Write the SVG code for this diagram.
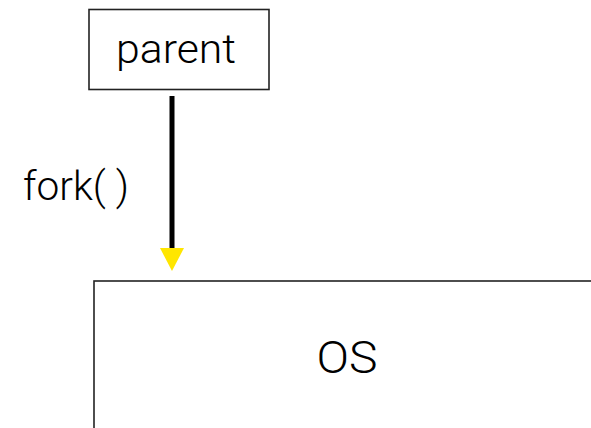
<svg xmlns="http://www.w3.org/2000/svg" width="591" height="428" viewBox="0 0 591 428">
<style>
text{font-family:Roboto,"Liberation Sans",Arial,sans-serif;font-weight:300;fill:#000;}
.box{fill:#fff;stroke:#222;stroke-width:1.6;}
</style>
<rect width="591" height="428" fill="#fff"/>
<g id="connectors">
<line x1="172" y1="96" x2="172" y2="249" stroke="#000" stroke-width="5"/>
<polygon points="160,248 184,248 172,271" fill="#FFE600"/>
<text x="23" y="200" font-size="40" textLength="106" lengthAdjust="spacingAndGlyphs">fork( )</text>
</g>
<g id="parent">
<rect class="box" x="89" y="9.5" width="180" height="80"/>
<text x="176" y="63" font-size="41" text-anchor="middle" textLength="120" lengthAdjust="spacingAndGlyphs">parent</text>
</g>
<g id="os">
<rect class="box" x="94" y="281" width="520" height="200"/>
<text x="347" y="373" font-size="45" text-anchor="middle" textLength="61" lengthAdjust="spacingAndGlyphs">OS</text>
</g>
</svg>
